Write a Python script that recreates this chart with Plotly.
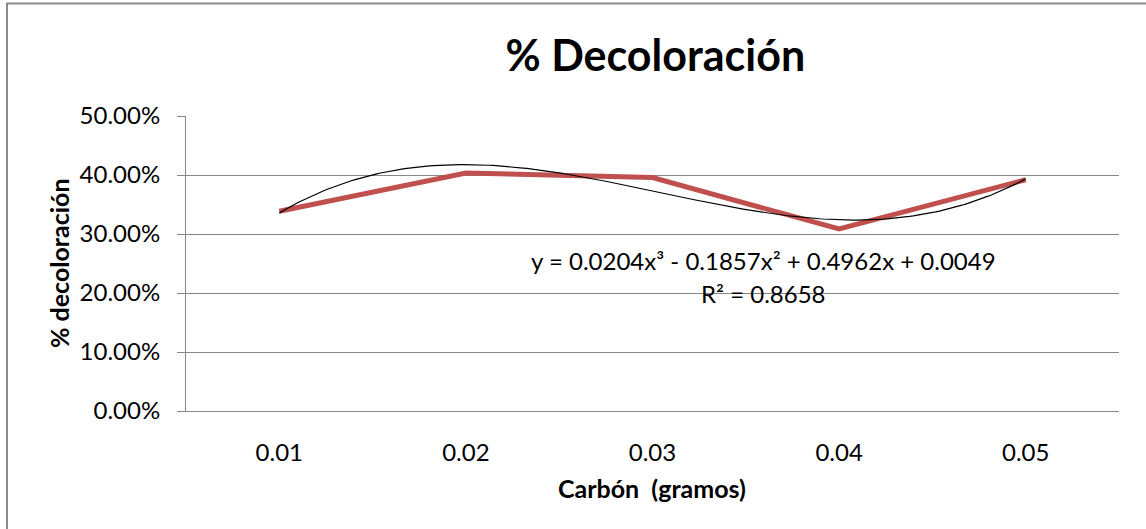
import numpy as np
import plotly.graph_objects as go

# ---- data ----
categories = ["0.01", "0.02", "0.03", "0.04", "0.05"]
decoloracion = [0.3385, 0.4034, 0.3956, 0.3085, 0.3920]
# polynomial trendline coefficients as displayed on the chart (x = category index 1..5)
trend_coef = [0.0204, -0.1857, 0.4962, 0.0049]
eq_text = "y = 0.0204x³ - 0.1857x² + 0.4962x + 0.0049"
r2_text = "R² = 0.8658"
y_ticks = [0, 0.1, 0.2, 0.3, 0.4, 0.5]

W, H = 1146, 529
L, R, T, B = 186, 27, 116, 118
PW, PH = W - L - R, H - T - B

def px2x(px):
    return (px - L) / PW

def py2y(py):
    return (H - B - py) / PH

FONT = "Lato, 'Open Sans', sans-serif"
GRID = "#868686"

xi = list(range(1, len(categories) + 1))
xt = np.linspace(1, len(categories), 200)
yt = np.polyval(trend_coef, xt)

fig = go.Figure()
fig.add_trace(go.Scatter(x=xi, y=decoloracion, mode="lines",
                         line=dict(color="#C0504D", width=5), showlegend=False))
fig.add_trace(go.Scatter(x=xt, y=yt, mode="lines",
                         line=dict(color="#000000", width=1.2), showlegend=False))

fig.update_layout(
    width=W, height=H,
    margin=dict(l=L, r=R, t=T, b=B),
    paper_bgcolor="white", plot_bgcolor="white",
    font=dict(family=FONT, color="#000000", size=24),
    title=dict(text="<b>% Decoloración</b>", x=0.503, xref="paper",
               y=1 - 56 / H, yref="container", xanchor="center", yanchor="middle",
               font=dict(size=43, family=FONT, color="#000000")),
    showlegend=False,
)
fig.update_xaxes(
    range=[0.5, len(categories) + 0.5], tickvals=xi, ticktext=categories,
    showgrid=False, zeroline=False, showline=True, linecolor=GRID, linewidth=1,
    ticks="", ticklabelstandoff=20, tickfont=dict(size=24, family=FONT),
)
fig.update_yaxes(
    range=[0, 0.5], tickvals=y_ticks, tickformat=".2%",
    showgrid=True, gridcolor=GRID, gridwidth=1, zeroline=False,
    showline=True, linecolor=GRID, linewidth=1,
    ticks="outside", ticklen=8, tickcolor=GRID, tickwidth=1,
    ticklabelstandoff=12, tickfont=dict(size=24, family=FONT),
)

# axis titles
fig.add_annotation(text="<b>% decoloración</b>", xref="paper", yref="paper",
                   x=px2x(59), y=py2y(263), showarrow=False, textangle=-90,
                   font=dict(size=25, family=FONT), xanchor="center", yanchor="middle")
fig.add_annotation(text="<b>Carbón  (gramos)</b>", xref="paper", yref="paper",
                   x=px2x(652), y=py2y(488), showarrow=False,
                   font=dict(size=25, family=FONT), xanchor="center", yanchor="middle")
# trendline equation
fig.add_annotation(text=eq_text, xref="paper", yref="paper",
                   x=px2x(763), y=py2y(260), showarrow=False,
                   font=dict(size=24, family=FONT), xanchor="center", yanchor="middle")
fig.add_annotation(text=r2_text, xref="paper", yref="paper",
                   x=px2x(763), y=py2y(293), showarrow=False,
                   font=dict(size=24, family=FONT), xanchor="center", yanchor="middle")

# outer chart frame (only top and left edges visible)
fig.add_shape(type="rect", xref="paper", yref="paper",
              x0=px2x(7), x1=px2x(W + 10), y0=py2y(H + 10), y1=py2y(3.5),
              line=dict(color="#8c8c8c", width=2), layer="below")

fig.write_html("out.html")
